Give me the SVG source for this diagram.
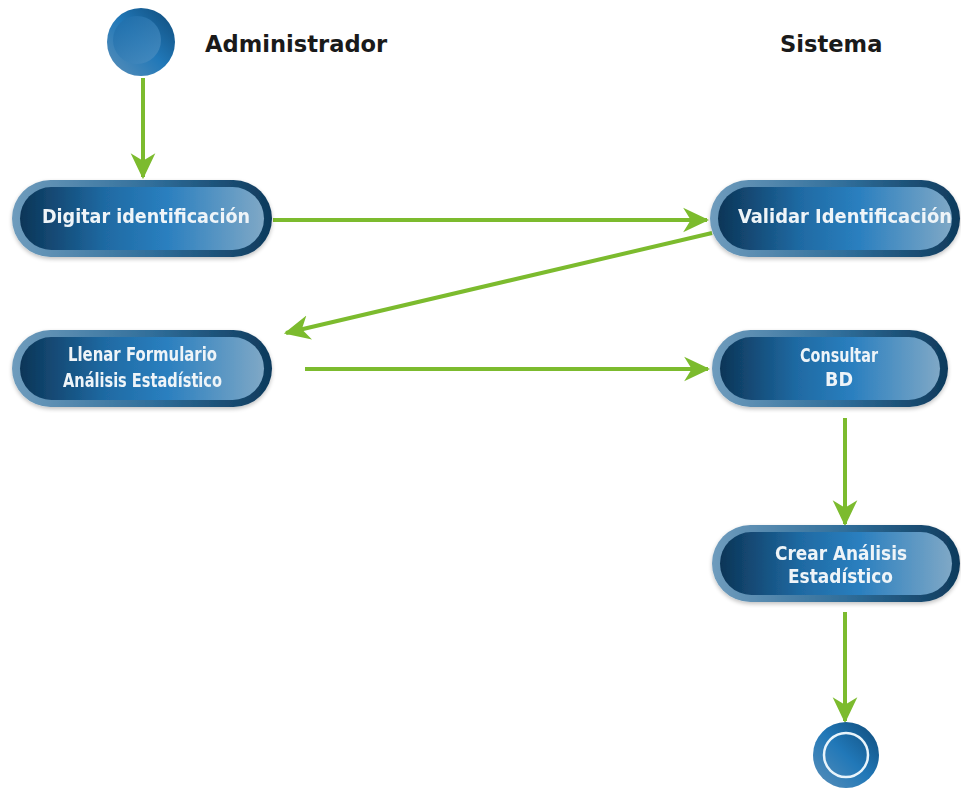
<svg xmlns="http://www.w3.org/2000/svg" width="961" height="788" viewBox="0 0 961 788">
  <defs>
    <linearGradient id="ring" x1="0" y1="0" x2="1" y2="0">
      <stop offset="0" stop-color="#6f9cbd"/>
      <stop offset="0.55" stop-color="#2f6d99"/>
      <stop offset="1" stop-color="#0e3a5c"/>
    </linearGradient>
    <linearGradient id="core" x1="0" y1="0" x2="1" y2="0">
      <stop offset="0" stop-color="#0c3557"/>
      <stop offset="0.35" stop-color="#1f6aa3"/>
      <stop offset="0.6" stop-color="#2a7fbf"/>
      <stop offset="1" stop-color="#7fa8c6"/>
    </linearGradient>
    <linearGradient id="disc" x1="0" y1="1" x2="1" y2="0">
      <stop offset="0" stop-color="#5b8fb8"/>
      <stop offset="0.5" stop-color="#2178b8"/>
      <stop offset="1" stop-color="#0f4a78"/>
    </linearGradient>
    <linearGradient id="discIn" x1="0" y1="0" x2="1" y2="1">
      <stop offset="0" stop-color="#1b6ba8"/>
      <stop offset="1" stop-color="#4c8fc2"/>
    </linearGradient>
    <marker id="arrow" viewBox="0 0 12 12" refX="11" refY="6" markerWidth="6.5" markerHeight="6.5" orient="auto" markerUnits="strokeWidth">
      <path d="M0,0.3 L12,6 L0,11.7 L3.5,6 Z" fill="#7cbb2e"/>
    </marker>
    <filter id="shadow" x="-10%" y="-20%" width="120%" height="150%">
      <feGaussianBlur in="SourceAlpha" stdDeviation="2"/>
      <feOffset dx="0" dy="2"/>
      <feComponentTransfer><feFuncA type="linear" slope="0.25"/></feComponentTransfer>
      <feMerge><feMergeNode/><feMergeNode in="SourceGraphic"/></feMerge>
    </filter>
  </defs>
  <style>
    .lane { font-family: "DejaVu Sans", Verdana, sans-serif; font-weight: bold; font-size: 22.6px; fill: #1a1a1a; }
    .label { font-family: "DejaVu Sans Condensed", "DejaVu Sans", sans-serif; font-weight: bold; font-size: 19.5px; fill: #eef4f8; text-anchor: middle; }
    .edge { stroke: #7cbb2e; stroke-width: 4; fill: none; marker-end: url(#arrow); }
  </style>
  <rect width="961" height="788" fill="#ffffff"/>

  <!-- swimlane titles -->
  <text class="lane" x="205" y="52">Administrador</text>
  <text class="lane" x="780" y="52">Sistema</text>

  <!-- connectors -->
  <g id="connectors">
    <line class="edge" x1="143" y1="78" x2="143" y2="177"/>
    <line class="edge" x1="273" y1="220" x2="707" y2="220"/>
    <line class="edge" x1="712" y1="233" x2="286" y2="333"/>
    <line class="edge" x1="305" y1="369" x2="708" y2="369"/>
    <line class="edge" x1="845" y1="418" x2="845" y2="524"/>
    <line class="edge" x1="845" y1="612" x2="845" y2="721"/>
  </g>

  <!-- initial state -->
  <g id="start">
    <circle cx="141" cy="42" r="34" fill="url(#disc)"/>
    <circle cx="137" cy="40" r="24" fill="url(#discIn)" opacity="0.8"/>
  </g>

  <!-- activities -->
  <g id="digitar" filter="url(#shadow)">
    <rect x="12" y="180" width="260" height="77" rx="38.5" fill="url(#ring)"/>
    <rect x="20" y="187" width="244" height="63" rx="31.5" fill="url(#core)"/>
    <text class="label" x="146" y="223" textLength="208" lengthAdjust="spacingAndGlyphs">Digitar identificación</text>
  </g>

  <g id="validar" filter="url(#shadow)">
    <rect x="710" y="180" width="250" height="77" rx="38.5" fill="url(#ring)"/>
    <rect x="718" y="187" width="234" height="63" rx="31.5" fill="url(#core)"/>
    <text class="label" x="845" y="223" textLength="214" lengthAdjust="spacingAndGlyphs">Validar Identificación</text>
  </g>

  <g id="llenar" filter="url(#shadow)">
    <rect x="12" y="330" width="260" height="77" rx="38.5" fill="url(#ring)"/>
    <rect x="20" y="337" width="244" height="63" rx="31.5" fill="url(#core)"/>
    <text class="label" x="142.5" y="361" textLength="149" lengthAdjust="spacingAndGlyphs">Llenar Formulario</text>
    <text class="label" x="142.5" y="387" textLength="159" lengthAdjust="spacingAndGlyphs">Análisis Estadístico</text>
  </g>

  <g id="consultar" filter="url(#shadow)">
    <rect x="712" y="330" width="236" height="77" rx="38.5" fill="url(#ring)"/>
    <rect x="720" y="337" width="220" height="63" rx="31.5" fill="url(#core)"/>
    <text class="label" x="839" y="362" textLength="78" lengthAdjust="spacingAndGlyphs">Consultar</text>
    <text class="label" x="839" y="386">BD</text>
  </g>

  <g id="crear" filter="url(#shadow)">
    <rect x="712" y="525" width="248" height="77" rx="38.5" fill="url(#ring)"/>
    <rect x="720" y="532" width="232" height="63" rx="31.5" fill="url(#core)"/>
    <text class="label" x="841" y="560" textLength="132" lengthAdjust="spacingAndGlyphs">Crear Análisis</text>
    <text class="label" x="840.5" y="583" textLength="105" lengthAdjust="spacingAndGlyphs">Estadístico</text>
  </g>

  <!-- final state -->
  <g id="end">
    <circle cx="846" cy="755" r="33" fill="url(#disc)"/>
    <circle cx="846" cy="755" r="22" fill="none" stroke="#e8f4fb" stroke-width="2.5"/>
  </g>
</svg>
